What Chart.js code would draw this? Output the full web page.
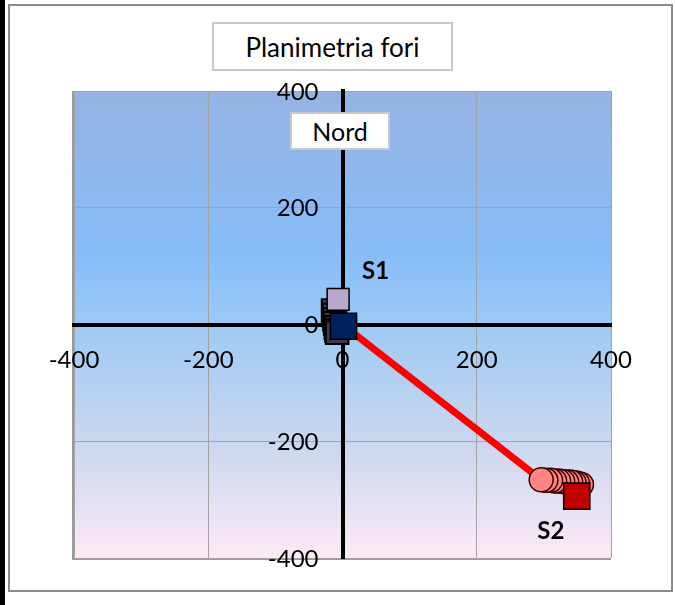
<!DOCTYPE html>
<html>
<head>
<meta charset="utf-8">
<script src="https://cdn.jsdelivr.net/npm/chart.js@4/dist/chart.umd.min.js"></script>
<style>
  html, body { margin: 0; padding: 0; background: #ffffff; }
  body { width: 675px; height: 605px; position: relative; overflow: hidden; font-family: Lato, "Open Sans", sans-serif; }
  #leftbar { position: absolute; left: 0; top: 0; width: 5px; height: 605px; background: #000; }
  #frame { position: absolute; left: 8px; top: 4px; width: 661px; height: 584px; border: 2px solid #8a8a8a; }
  canvas { position: absolute; left: 0; top: 0; }
  .box { position: absolute; background: #fff; border: 2px solid #c8c8c8; box-sizing: border-box;
         display: flex; align-items: center; justify-content: center; color: #000; font-size: 26px; }
  #title { left: 212px; top: 22px; width: 241px; height: 49px; }
  #nord { left: 290px; top: 112px; width: 100px; height: 38px; font-size: 25px; }
</style>
</head>
<body>
<div id="leftbar"></div>
<div id="frame"></div>
<canvas id="c" width="675" height="605"></canvas>
<div class="box" id="title">Planimetria fori</div>
<div class="box" id="nord">Nord</div>
<script>
// ---- data ----
const axisTicks = [-400, -200, 0, 200, 400];

// S1 : head (navy) + top (lilac) + stack of older readings
const s1MainX = [1.5];
const s1MainY = [-3];
const s1TopX = [-6.5];
const s1TopY = [43];
const s1StackX = [-14, -13, -12, -11, -10, -9, -8];
const s1StackY = [24, 16, 9, 2, -5, -10, -14];

// connecting line S1 -> S2
const lineX = [0, 296];
const lineY = [0, -266];

// S2 : readings (circles), drawn back to front
const s2CircX = [356, 350, 345, 340, 334, 328, 322, 316, 310, 303, 296];
const s2CircY = [-274, -272, -271, -270, -270, -269, -268, -268, -267, -267, -266];
const s2MainX = [349];
const s2MainY = [-294];

const toPts = (xs, ys) => xs.map((x, i) => ({ x: x, y: ys[i] }));
const FONT = 'Lato, "Open Sans", sans-serif';

const bgPlugin = {
  id: 'bg',
  beforeDraw(chart) {
    const { ctx, chartArea: a } = chart;
    const g = ctx.createLinearGradient(0, a.top, 0, a.bottom);
    g.addColorStop(0, '#95b3e3');
    g.addColorStop(0.35, '#87bdf8');
    g.addColorStop(0.5, '#9dcaf5');
    g.addColorStop(0.75, '#cad7ef');
    g.addColorStop(1, '#fde9f6');
    ctx.save();
    ctx.fillStyle = g;
    ctx.fillRect(a.left, a.top, a.right - a.left, a.bottom - a.top);
    ctx.strokeStyle = '#9a9a9a';
    ctx.lineWidth = 2;
    ctx.beginPath();
    ctx.moveTo(a.left - 1, a.top);
    ctx.lineTo(a.left - 1, a.bottom + 1);
    ctx.lineTo(a.right, a.bottom + 1);
    ctx.stroke();
    ctx.restore();
  }
};

const labelPlugin = {
  id: 'lbls',
  afterDraw(chart) {
    const { ctx, scales: { x, y } } = chart;
    ctx.save();
    ctx.fillStyle = '#000';
    // y tick labels, to the left of the vertical axis
    ctx.font = '24px ' + FONT;
    ctx.textAlign = 'right';
    ctx.textBaseline = 'middle';
    const x0 = x.getPixelForValue(0);
    axisTicks.forEach(v => ctx.fillText(String(v), x0 - 24, y.getPixelForValue(v) + 1));
    // series labels
    ctx.font = 'bold 24px ' + FONT;
    ctx.textAlign = 'center';
    ctx.fillText('S1', x.getPixelForValue(s1MainX[0]) + 32, y.getPixelForValue(s1MainY[0]) - 55);
    ctx.fillText('S2', x.getPixelForValue(s2MainX[0]) - 26, y.getPixelForValue(s2MainY[0]) + 35);
    ctx.restore();
  }
};

new Chart(document.getElementById('c'), {
  type: 'scatter',
  data: {
    datasets: [
      { label: 'S1', data: toPts(s1MainX, s1MainY), pointStyle: 'rect', pointRadius: 18.5,
        backgroundColor: '#002060', borderColor: '#000', borderWidth: 1.5, order: 1 },
      { label: 'S1 top', data: toPts(s1TopX, s1TopY), pointStyle: 'rect', pointRadius: 15.5,
        backgroundColor: '#b7a9cb', borderColor: '#000', borderWidth: 1.5, order: 2 },
      { label: 'S1 stack', data: toPts(s1StackX, s1StackY), pointStyle: 'rect', pointRadius: 16,
        backgroundColor: '#3c3a4c', borderColor: '#000', borderWidth: 2, order: 3 },
      { label: 'S2', data: toPts(s2MainX, s2MainY), pointStyle: 'rect', pointRadius: 18.5,
        backgroundColor: '#c00000', borderColor: '#000', borderWidth: 1.5, order: 4 },
      { label: 'S2 letture', data: toPts(s2CircX, s2CircY), pointStyle: 'circle', pointRadius: 12,
        backgroundColor: '#ff8585', borderColor: '#3a0000', borderWidth: 1.5, order: 5 },
      { label: 'linea', data: toPts(lineX, lineY), showLine: true, borderColor: '#ff0000',
        borderWidth: 7, pointRadius: 0, order: 6 }
    ]
  },
  options: {
    responsive: false,
    animation: false,
    events: [],
    layout: { padding: { left: 74, right: 64, top: 91, bottom: 47 } },
    plugins: { legend: { display: false }, tooltip: { enabled: false }, title: { display: false } },
    scales: {
      x: {
        type: 'linear', min: -400, max: 400,
        position: { y: 0 },
        afterBuildTicks: (s) => { s.ticks = axisTicks.map(v => ({ value: v })); },
        grid: { color: '#a3a3a3', lineWidth: 1, drawTicks: false },
        border: { color: '#000', width: 4 },
        ticks: { color: '#000', font: { size: 24, family: FONT }, padding: 21, maxRotation: 0, autoSkip: false }
      },
      y: {
        type: 'linear', min: -400, max: 400,
        position: { x: 0 },
        afterBuildTicks: (s) => { s.ticks = axisTicks.map(v => ({ value: v })); },
        grid: { color: '#a3a3a3', lineWidth: 1, drawTicks: false },
        border: { color: '#000', width: 4 },
        ticks: { display: false }
      }
    }
  },
  plugins: [bgPlugin, labelPlugin]
});
</script>
</body>
</html>
